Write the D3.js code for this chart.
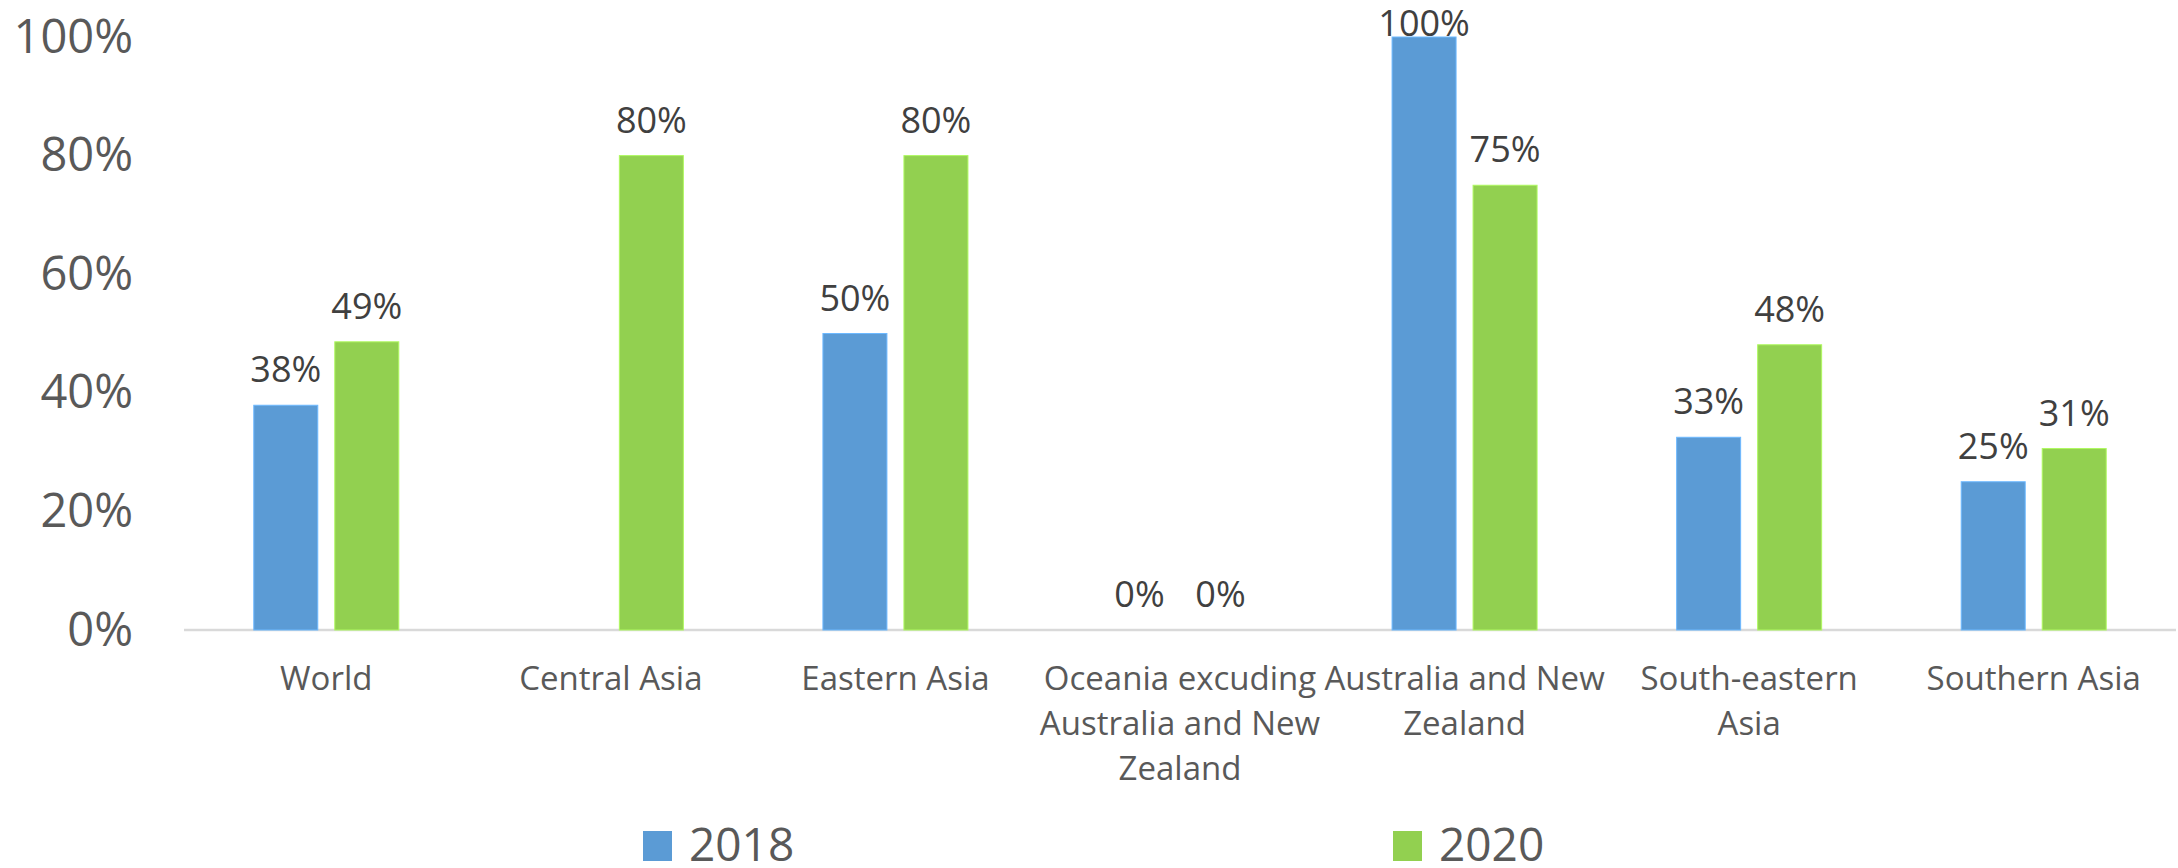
<!DOCTYPE html>
<html><head><meta charset="utf-8">
<script src="https://cdn.jsdelivr.net/npm/d3@7"></script>
<style>body{margin:0;background:#fff}svg{display:block}text{font-family:"Open Sans",sans-serif}</style>
</head><body><svg id="c" width="2178" height="868"></svg>
<script>
const categories = ["World","Central Asia","Eastern Asia","Oceania excuding Australia and New Zealand","Australia and New Zealand","South-eastern Asia","Southern Asia"];
const categoryLines = [["World"],["Central Asia"],["Eastern Asia"],["Oceania excuding","Australia and New","Zealand"],["Australia and New","Zealand"],["South-eastern","Asia"],["Southern Asia"]];
const series = ["2018","2020"];
const values2018 = [0.379, null, 0.50, 0, 1.00, 0.325, 0.25];
const values2020 = [0.486, 0.80, 0.80, 0, 0.75, 0.481, 0.306];
const tickValues = [0, 0.2, 0.4, 0.6, 0.8, 1.0];
const colors = {"2018":"#5b9bd5","2020":"#92d050"};

const svg = d3.select("#c");
const x0 = d3.scaleBand().domain(categories).range([184, 2176]).padding(0);
const bw = x0.bandwidth();
const x1 = d3.scaleBand().domain(series).range([bw/2 - 72.5, bw/2 + 72.5]).paddingInner(0.21).paddingOuter(0);
const y = d3.scaleLinear().domain([0, 1]).range([630, 37]);
const fmt = d3.format(".0%");

// y tick labels
const yAxis = d3.axisLeft(y).tickValues(tickValues).tickFormat(fmt).tickSize(0).tickPadding(0);
const ya = svg.append("g").attr("transform","translate(133,0)").call(yAxis);
ya.select(".domain").remove();
ya.selectAll("text").attr("font-size",47).attr("fill","#595959").style("font-family","'Open Sans',sans-serif");

// baseline
svg.append("line").attr("x1",184).attr("x2",2176).attr("y1",y(0)).attr("y2",y(0))
  .attr("stroke","#d9d9d9").attr("stroke-width",2.5);

const data = categories.map((c,i)=>({cat:c, vals:[{s:"2018",v:values2018[i]},{s:"2020",v:values2020[i]}]}));
const g = svg.selectAll("g.cat").data(data).join("g").attr("class","cat")
  .attr("transform",d=>`translate(${x0(d.cat)},0)`);
const pts = g.selectAll("g.pt").data(d=>d.vals.filter(e=>e.v!==null)).join("g").attr("class","pt");
pts.filter(d=>d.v>0).append("rect")
  .attr("x",d=>x1(d.s)).attr("width",x1.bandwidth())
  .attr("y",d=>y(d.v)).attr("height",d=>y(0)-y(d.v))
  .attr("fill",d=>colors[d.s]).attr("stroke",d=>d3.color(colors[d.s]).brighter(0.5)).attr("stroke-width",1);
pts.append("text")
  .attr("x",d=>x1(d.s)+x1.bandwidth()/2).attr("y",d=>Math.max(y(d.v)-23, 36))
  .attr("text-anchor","middle").attr("font-size",36).attr("fill","#404040")
  .text(d=>fmt(d.v));

// category labels
const lab = svg.selectAll("text.cl").data(categories).join("text").attr("class","cl")
  .attr("text-anchor","middle").attr("font-size",33).attr("fill","#595959")
  .attr("transform",d=>`translate(${x0(d)+bw/2},690)`);
lab.selectAll("tspan").data((d,i)=>categoryLines[i]).join("tspan")
  .attr("x",0).attr("dy",(d,i)=>i===0?0:45).text(d=>d);

// legend
const legX = {"2018":643,"2020":1393};
const lg = svg.selectAll("g.leg").data(series).join("g").attr("class","leg")
  .attr("transform",d=>`translate(${legX[d]},0)`);
lg.append("rect").attr("x",0).attr("y",831).attr("width",29).attr("height",30).attr("fill",d=>colors[d]);
lg.append("text").attr("x",46).attr("y",861).attr("font-size",46).attr("fill","#595959").text(d=>d);
</script></body></html>
